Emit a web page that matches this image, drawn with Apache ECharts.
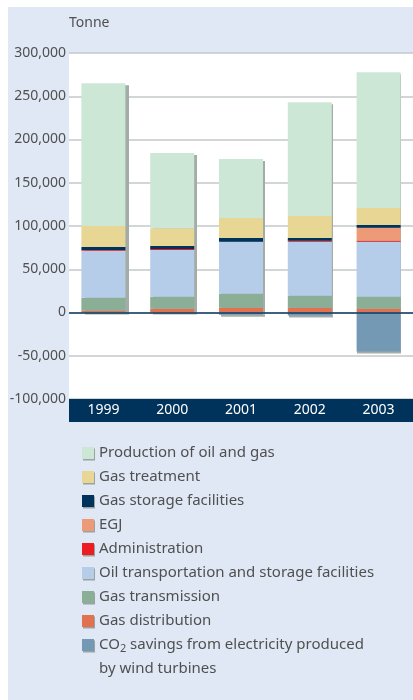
<!DOCTYPE html>
<html>
<head>
<meta charset="utf-8">
<script src="https://cdn.jsdelivr.net/npm/echarts@6/dist/echarts.min.js"></script>
<style>
    body { margin: 0; background: #fff; }
    #panel { position: absolute; left: 8px; top: 7px; width: 405px; height: 693px; background: #dfe8f4; }
    #chart { position: absolute; left: 0; top: 0; width: 413px; height: 700px; }
</style>
</head>
<body>
<div id="panel"></div>
<div id="chart"></div>
<script>
// values, tonne
const years = ['1999', '2000', '2001', '2002', '2003']
const production = [165000, 86900, 68100, 131400, 157000]
const gasTreatment = [24200, 20500, 23100, 25500, 19700]
const gasStorage = [3500, 3500, 4300, 3100, 3100]
const egj = [0, 0, 0, 0, 15000]
const administration = [800, 1100, 0, 1100, 1100]
const oilTransport = [54500, 54200, 60300, 62600, 63800]
const gasTransmission = [15000, 13800, 16200, 13900, 13800]
const gasDistribution = [2000, 4300, 5400, 5400, 4300]
const co2Savings = [0, 0, -2500, -3500, -45000]

const yMin = -100000
const yMax = 300000
const yStep = 50000

const co2Name = 'CO2 savings from electricity produced by wind turbines'
const font = 'Noto Sans'
const textColor = '#505050'

// bottom to top of the stack
const stacked = [
    ['Gas distribution', gasDistribution, '#e07250'],
    ['Gas transmission', gasTransmission, '#8bae97'],
    ['Oil transportation and storage facilities', oilTransport, '#b6cdea'],
    ['Administration', administration, '#ec1c24'],
    ['EGJ', egj, '#ec9a77'],
    ['Gas storage facilities', gasStorage, '#00335b'],
    ['Gas treatment', gasTreatment, '#e8d794'],
    ['Production of oil and gas', production, '#cde7d6'],
    [co2Name, co2Savings, '#7499b4']
]
const legendOrder = [
    'Production of oil and gas', 'Gas treatment', 'Gas storage facilities', 'EGJ',
    'Administration', 'Oil transportation and storage facilities', 'Gas transmission',
    'Gas distribution', co2Name
]

// grey drop shadow behind each column
let posTotal = years.map(function (y, i) {
    let s = 0
    stacked.forEach(function (d) { if (d[1][i] > 0) s += d[1][i] })
    return s
})
let negTotal = years.map(function (y, i) {
    let s = 0
    stacked.forEach(function (d) { if (d[1][i] < 0) s += d[1][i] })
    return s
})

let series = []
stacked.forEach(function (d) {
    series.push({
        name: d[0],
        type: 'bar',
        stack: 'total',
        barWidth: 44,
        z: 2,
        itemStyle: { color: d[2] },
        data: d[1]
    })
})
series[series.length - 1].markLine = {
    silent: true,
    symbol: ['none', 'none'],
    label: { show: false },
    lineStyle: { color: '#0d3a5f', width: 1.5, type: 'solid' },
    data: [{ yAxis: 0 }]
}
series.push({
    name: 'shadowPos', type: 'bar', stack: 'shadow', barWidth: 44, z: 1, silent: true,
    xAxisIndex: 1, yAxisIndex: 1, itemStyle: { color: '#a4aca8' }, data: posTotal
})
series.push({
    name: 'shadowNeg', type: 'bar', stack: 'shadow', barWidth: 44, z: 1, silent: true,
    xAxisIndex: 1, yAxisIndex: 1, itemStyle: { color: '#a4aca8' }, data: negTotal
})

let chart = echarts.init(document.getElementById('chart'))
chart.setOption({
    animation: false,
    textStyle: { fontFamily: font },
    title: {
        text: 'by wind turbines',
        left: 99,
        top: 660,
        padding: 0,
        textStyle: { fontFamily: font, fontSize: 15, fontWeight: 'normal', color: textColor, lineHeight: 17 }
    },
    grid: [
        { left: 69, top: 53, width: 350, height: 346, show: true, backgroundColor: '#fff', borderWidth: 0 },
        { left: 73, top: 55, width: 350, height: 346 }
    ],
    legend: {
        orient: 'vertical',
        left: 82,
        top: 441,
        padding: 0,
        itemGap: 0,
        itemWidth: 12,
        itemHeight: 12,
        icon: 'rect',
        selectedMode: false,
        data: legendOrder,
        itemStyle: { shadowColor: '#9aa3a0', shadowOffsetX: 1, shadowOffsetY: 1.5, shadowBlur: 0 },
        formatter: function (name) {
            return name === co2Name ? 'CO{sub|2} savings from electricity produced' : name
        },
        textStyle: {
            fontFamily: font, fontSize: 15, lineHeight: 24, color: textColor,
            rich: { sub: { fontFamily: font, fontSize: 11, lineHeight: 14, padding: [8, 0, 0, 0], color: textColor } }
        }
    },
    xAxis: [
        {
            type: 'category',
            gridIndex: 0,
            data: years,
            position: 'bottom',
            offset: 11.5,
            axisLine: { onZero: false, lineStyle: { color: '#00335b', width: 23, cap: 'butt' } },
            axisTick: { show: false },
            axisLabel: { color: '#fff', fontSize: 14, margin: 0, verticalAlign: 'middle' }
        },
        { type: 'category', gridIndex: 1, data: years, show: false }
    ],
    yAxis: [
        {
            type: 'value',
            gridIndex: 0,
            min: yMin,
            max: yMax,
            interval: yStep,
            name: 'Tonne',
            nameLocation: 'end',
            nameGap: 23,
            nameTextStyle: { align: 'left', color: textColor, fontSize: 14 },
            axisLine: { show: false },
            axisTick: { show: false },
            axisLabel: {
                margin: 3,
                fontSize: 14,
                color: textColor,
                formatter: function (v) { return v.toLocaleString('en-US') }
            },
            splitLine: { lineStyle: { color: '#c5c9c9', width: 1.5 } }
        },
        { type: 'value', gridIndex: 1, min: yMin, max: yMax, interval: yStep, show: false, splitLine: { show: false } }
    ],
    series: series
})
</script>
</body>
</html>
